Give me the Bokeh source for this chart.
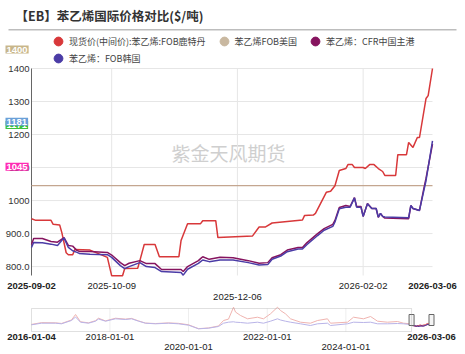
import pandas as pd
from bokeh.plotting import figure
from bokeh.models import (Range1d, Label, Legend, LegendItem, BoxAnnotation)
from bokeh.core.properties import value
from bokeh.embed import file_html
from bokeh.resources import INLINE

# ---------------- data (main window) ----------------
red_dates = ["2025-09-02", "2025-09-04", "2025-09-11", "2025-09-12", "2025-09-15", "2025-09-16",
             "2025-09-18", "2025-09-19", "2025-09-21", "2025-09-22", "2025-09-29", "2025-10-07",
             "2025-10-09", "2025-10-14", "2025-10-15", "2025-10-21", "2025-10-22", "2025-10-24",
             "2025-10-29", "2025-10-31", "2025-11-09", "2025-11-10", "2025-11-13", "2025-11-19",
             "2025-11-20", "2025-11-26", "2025-11-27", "2025-12-13", "2025-12-16", "2025-12-19",
             "2025-12-22", "2026-01-05", "2026-01-06", "2026-01-10", "2026-01-11", "2026-01-16",
             "2026-01-18", "2026-01-20", "2026-01-22", "2026-01-25", "2026-01-26", "2026-01-28",
             "2026-01-29", "2026-02-02", "2026-02-03", "2026-02-05", "2026-02-07", "2026-02-09",
             "2026-02-11", "2026-02-12", "2026-02-17", "2026-02-18", "2026-02-22", "2026-02-23",
             "2026-02-25", "2026-02-27", "2026-02-28", "2026-03-03", "2026-03-04", "2026-03-06"]
red_vals = [945, 940, 940, 928, 926, 903,
            842, 836, 836, 852, 850, 828,
            772, 772, 794, 795, 818, 867,
            867, 830, 830, 879, 930, 930,
            939, 939, 888, 893, 920, 920,
            932, 941, 955, 956, 961, 1025,
            1028, 1045, 1091, 1097, 1109, 1109,
            1100, 1100, 1097, 1109, 1109, 1097,
            1088, 1076, 1076, 1139, 1139, 1176,
            1161, 1191, 1191, 1309, 1318, 1400]

asia_dates = ["2025-09-02", "2025-09-03", "2025-09-07", "2025-09-11", "2025-09-14", "2025-09-17",
              "2025-09-19", "2025-09-21", "2025-09-23", "2025-09-24", "2025-09-29", "2025-10-07",
              "2025-10-09", "2025-10-13", "2025-10-15", "2025-10-17", "2025-10-22", "2025-10-25",
              "2025-10-29", "2025-11-01", "2025-11-10", "2025-11-11", "2025-11-13", "2025-11-18",
              "2025-11-19", "2025-11-20", "2025-11-23", "2025-11-28", "2025-12-04", "2025-12-11",
              "2025-12-16", "2025-12-20", "2025-12-22", "2025-12-26", "2025-12-29", "2026-01-03",
              "2026-01-05", "2026-01-07", "2026-01-12", "2026-01-15", "2026-01-19", "2026-01-20",
              "2026-01-22", "2026-01-25", "2026-01-27", "2026-01-29", "2026-01-30", "2026-02-01",
              "2026-02-02", "2026-02-04", "2026-02-06", "2026-02-08", "2026-02-09", "2026-02-10",
              "2026-02-11", "2026-02-12", "2026-02-23", "2026-02-24", "2026-02-25", "2026-02-28",
              "2026-03-02", "2026-03-03", "2026-03-06"]
cfr_vals = [867, 885, 885, 876, 874, 888,
            864, 862, 849, 846, 846, 843,
            835, 812, 803, 810, 818, 809,
            809, 791, 791, 785, 800, 818,
            824, 830, 822, 828, 827, 818,
            810, 812, 827, 836, 850, 858,
            858, 872, 900, 915, 928, 940,
            979, 985, 982, 1009, 982, 982,
            952, 991, 976, 976, 949, 961,
            952, 947, 945, 985, 976, 970,
            1036, 1067, 1171]
kor_vals = [858, 873, 872, 868, 864, 887,
            858, 848, 843, 840, 837, 836,
            828, 803, 794, 800, 812, 800,
            797, 785, 782, 774, 792, 810,
            815, 820, 815, 820, 820, 812,
            805, 806, 822, 832, 845, 853,
            853, 866, 894, 910, 922, 935,
            975, 980, 980, 1008, 980, 980,
            952, 990, 976, 976, 950, 961,
            952, 950, 948, 985, 976, 970,
            1030, 1060, 1181]

us_dates = ["2025-09-02", "2026-03-06"]
us_vals = [1045, 1045]

# ---------------- data (navigator history) ----------------
hist_dates = ["2016-01-04", "2016-04-06", "2016-08-14", "2016-10-09", "2017-01-09", "2017-02-16",
              "2017-04-03", "2017-06-16", "2017-08-20", "2017-09-17", "2017-11-21", "2018-02-22",
              "2018-05-26", "2018-07-21", "2018-09-24", "2018-11-27", "2019-02-28", "2019-06-29",
              "2019-09-30", "2020-01-01", "2020-04-03", "2020-07-04", "2020-10-05", "2020-11-21",
              "2021-01-06", "2021-02-22", "2021-03-12", "2021-04-28", "2021-07-02", "2021-10-02",
              "2021-11-27", "2022-01-31", "2022-04-06", "2022-05-04", "2022-06-19", "2022-08-05",
              "2022-11-06", "2023-02-06", "2023-04-13", "2023-07-14", "2023-08-11", "2024-01-16",
              "2024-03-12", "2024-06-13", "2024-08-17", "2024-10-21", "2025-01-21", "2025-04-24",
              "2025-06-19", "2025-08-23"]
hist_red = [1000, 1200, 1180, 1110, 1500, 2121,
            1300, 1180, 1420, 1700, 1400, 1700,
            1600, 1680, 1400, 1150, 1100, 1170,
            1120, 960, 520, 600, 820, 1443,
            1600, 2946, 2400, 2008, 1635, 1816,
            1635, 2200, 2946, 2573, 2200, 1635,
            1251, 1138, 1443, 1635, 1138, 1251,
            1816, 1635, 1895, 1364, 1251, 1330,
            1138, 1070]
hist_kor = [957, 1138, 1138, 1070, 1443, 1838,
            1251, 1138, 1364, 1613, 1364, 1635,
            1556, 1635, 1364, 1138, 1070, 1138,
            1070, 912, 505, 573, 765, 1138,
            1251, 1300, 1251, 1217, 1138, 1251,
            1138, 1364, 1635, 1500, 1364, 1251,
            1070, 878, 1070, 1138, 878, 1070,
            1251, 1217, 1251, 1070, 1070, 1104,
            1070, 991]

main_ticks_row1 = ["2025-09-02", "2025-10-09", "2026-02-02", "2026-03-06"]
main_ticks_row2 = ["2025-12-06"]
main_grid = ["2025-10-09", "2025-12-06", "2026-02-02"]
nav_ticks_row1 = ["2016-01-04", "2018-01-01", "2022-01-01", "2026-03-06"]
nav_ticks_row2 = ["2020-01-01", "2024-01-01"]
nav_grid = ["2018-01-01", "2020-01-01", "2022-01-01", "2024-01-01"]
y_ticks = [800, 900, 1000, 1100, 1200, 1300, 1400]
y_tick_labels = ["800.0", "900.0", "1000", "1100", "1200", "1300", "1400"]

# ---------------- styles / geometry ----------------
RED = "#d8383a"
TAN = "#c9b8a0"
TANLINE = "#c4a690"
PUR = "#86145f"
BLU = "#4b3ca6"
FONT = "Liberation Sans"
CJK = "Noto Sans CJK SC"
W, H = 465, 354
PL, PR, PT, PB = 31, 432, 68, 275      # main plot area (canvas px)
Y_LO, Y_HI = 773, 1400
NL, NR, NT, NB = 31, 431, 308, 331     # navigator area
NY_LO, NY_HI = 200, 2800


def ms(d):
    return pd.Timestamp(d).value // 10**6


def dt(lst):
    return pd.to_datetime(lst)


x0, x1 = ms(red_dates[0]), ms(red_dates[-1])
kx = (x1 - x0) / (PR - PL)
ky = (Y_HI - Y_LO) / (PB - PT)
n0, n1 = ms(hist_dates[0]), ms(red_dates[-1])
nkx = (n1 - n0) / (NR - NL)
nky = (NY_HI - NY_LO) / (NB - NT)


def px_x(px):
    return x0 + (px - PL) * kx


def px_y(py):
    return Y_HI + (PT - py) * ky


p = figure(width=W, height=H, x_axis_location=None, y_axis_location=None,
           title_location=None, output_backend="svg", toolbar_location=None,
           x_range=Range1d(px_x(0), px_x(W)), y_range=Range1d(px_y(H), px_y(0)),
           min_border=0)
p.extra_x_ranges = {"nav": Range1d(n0 - NL * nkx, n1 + (W - NR) * nkx)}
p.extra_y_ranges = {"navy": Range1d(NY_LO - (H - NB) * nky, NY_HI + NT * nky)}
p.outline_line_color = None
p.xgrid.visible = False
p.ygrid.visible = False
p.background_fill_color = "white"
p.border_fill_color = "white"

# ---- main plot grid + axis ----
p.segment(x0=[x0] * len(y_ticks), x1=[x1] * len(y_ticks), y0=y_ticks, y1=y_ticks,
          color="#e6e6e6", line_width=1)
gx = [ms(d) for d in main_grid]
p.segment(x0=gx, x1=gx, y0=[Y_LO] * len(gx), y1=[Y_HI] * len(gx), color="#e6e6e6", line_width=1)
p.segment(x0=[x0], x1=[x0], y0=[Y_LO], y1=[Y_HI], color="#666666", line_width=1)
p.text(x=[x0] * len(y_ticks), y=y_ticks, text=y_tick_labels, x_offset=-2,
       text_font=value(FONT), text_font_size="9.5px", text_color="#333",
       text_align="right", text_baseline="middle")

# title separator line (drawn as a thin data-space rectangle, one per half to be safe)
p.quad(left=[px_x(8)], right=[px_x(456)], top=[px_y(28.5)], bottom=[px_y(30)],
       fill_color="#bdbdbd", fill_alpha=1, line_color=None)

# watermark
p.add_layout(Label(x=228, y=H - 152, x_units="screen", y_units="screen", text="紫金天风期货",
                   text_font=CJK, text_font_size="19px", text_color="#cfcfcf",
                   text_align="center", text_baseline="middle", level="underlay"))

p.line(dt(us_dates), us_vals, color=TANLINE, line_width=1.2)
p.line(dt(red_dates), red_vals, color=RED, line_width=1.5)
p.line(dt(asia_dates), cfr_vals, color=PUR, line_width=1.5)
p.line(dt(asia_dates), kor_vals, color=BLU, line_width=1.5)

# ---- legend (markers for legend only, size 0 in the plot) ----
names = ["现货价(中间价):苯乙烯:FOB鹿特丹", "苯乙烯FOB美国", "苯乙烯：CFR中国主港", "苯乙烯：FOB韩国"]
cols = [RED, TAN, PUR, BLU]
lasts = [(red_dates[-1], red_vals[-1]), (us_dates[-1], us_vals[-1]),
         (asia_dates[-1], cfr_vals[-1]), (asia_dates[-1], kor_vals[-1])]
rs = [p.scatter(x=dt([d]), y=[v], marker="circle", size=0, color=c, line_color=c)
      for (d, v), c in zip(lasts, cols)]
items = [LegendItem(label=nm, renderers=[r]) for nm, r in zip(names, rs)]


def mk_legend(its, vy):
    return Legend(items=its, location=(47, vy), orientation="horizontal",
                  border_line_color=None, background_fill_color=None, padding=0, margin=0,
                  spacing=7, glyph_width=22, glyph_height=22, label_height=22,
                  label_standoff=-5, label_text_font=CJK, label_text_font_size="9px",
                  label_text_color="#444")


p.add_layout(mk_legend(items[:3], H - 52))
p.add_layout(mk_legend(items[3:], H - 69))

# ---- title ----
p.add_layout(Label(x=15, y=H - 15, x_units="screen", y_units="screen",
                   text="【EB】苯乙烯国际价格对比($/吨)", text_font=CJK, text_font_size="12.5px",
                   text_font_style="bold", text_color="#333", text_baseline="middle",
                   background_fill_color=None, border_line_color=None))

# ---- last value tags ----
tags = [(red_vals[-1], "#c8b68a"), (cfr_vals[-1], "#3cc23c"), (kor_vals[-1], "#6aa0d8"),
        (us_vals[-1], "#ff2db4")]
for v, c in tags:
    p.add_layout(Label(x=5, x_units="screen", y=v, y_units="data", y_offset=19,
                       text=str(int(v)), text_font=FONT, text_font_size="9.5px",
                       text_font_style="bold", text_color="white", text_baseline="middle",
                       background_fill_color=c, padding=1))

# ---- x labels ----
for d in main_ticks_row1:
    bold = d in (main_ticks_row1[0], main_ticks_row1[-1])
    p.add_layout(Label(x=ms(d), y=H - 285, y_units="screen", text=d, text_font=FONT,
                       text_font_size="9.5px", text_font_style="bold" if bold else "normal",
                       text_color="#222", text_align="center", text_baseline="middle"))
for d in main_ticks_row2:
    p.add_layout(Label(x=ms(d), y=H - 296, y_units="screen", text=d, text_font=FONT,
                       text_font_size="9.5px", text_color="#222", text_align="center",
                       text_baseline="middle"))

# ---------------- navigator ----------------
NV = dict(x_range_name="nav", y_range_name="navy")
ng = [ms(d) for d in nav_grid]
p.segment(x0=ng, x1=ng, y0=[NY_LO] * len(ng), y1=[NY_HI] * len(ng), color="#eeeeee", **NV)
p.line(dt(hist_dates), hist_red, color="#f0b4b0", line_width=1, **NV)
p.line(dt(hist_dates), hist_kor, color="#b9b4e8", line_width=1, **NV)
p.line(dt(red_dates), red_vals, color=RED, line_width=1, **NV)
p.line(dt(asia_dates), cfr_vals, color=PUR, line_width=1, **NV)
p.line(dt(asia_dates), kor_vals, color=BLU, line_width=1, **NV)
p.add_layout(BoxAnnotation(left=n0, right=ms(red_dates[0]), bottom=NY_LO, top=NY_HI,
                           fill_alpha=0, line_color="#999999", line_width=1, **NV))
p.rect(x=dt([red_dates[0], red_dates[-1]]), y=[(NY_LO + NY_HI) / 2] * 2, width=5, height=11,
       width_units="screen", height_units="screen", fill_color="#f4f4f4", line_color="#666", **NV)
for d in nav_ticks_row1:
    bold = d in (nav_ticks_row1[0], nav_ticks_row1[-1])
    p.add_layout(Label(x=ms(d), y=H - 336, y_units="screen", text=d, text_font=FONT,
                       text_font_size="9.5px", text_font_style="bold" if bold else "normal",
                       text_color="#222", text_align="center", text_baseline="middle",
                       x_range_name="nav"))
for d in nav_ticks_row2:
    p.add_layout(Label(x=ms(d), y=H - 346, y_units="screen", text=d, text_font=FONT,
                       text_font_size="9.5px", text_color="#222", text_align="center",
                       text_baseline="middle", x_range_name="nav"))

open("out.html", "w").write(file_html(p, INLINE))
